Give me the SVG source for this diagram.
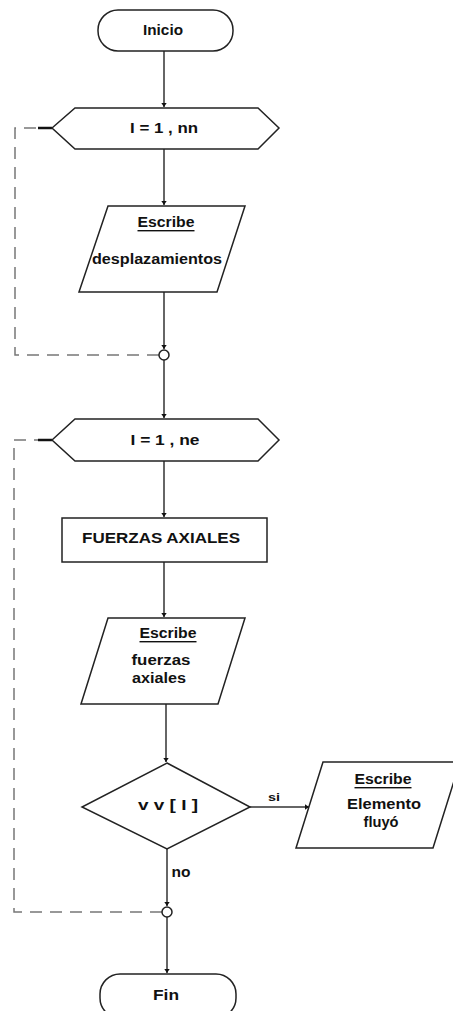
<svg xmlns="http://www.w3.org/2000/svg" width="453" height="1011" viewBox="0 0 453 1011">
<style>
.shape{fill:#fff;stroke:#222;stroke-width:1.5}
.line{fill:none;stroke:#333;stroke-width:1.5}
.dash{fill:none;stroke:#777;stroke-width:1.5;stroke-dasharray:12 8}
text{font-family:"Liberation Sans",Arial,sans-serif;font-weight:bold;font-size:14px;fill:#111;text-anchor:middle;dominant-baseline:central}
.u{text-decoration:underline}
</style>
<defs>
<marker id="ah" viewBox="0 0 6 8" refX="6" refY="4" markerWidth="4" markerHeight="6" orient="auto" markerUnits="userSpaceOnUse">
<path d="M0,0 L6,4 L0,8 Z" fill="#111"/>
</marker>
</defs>
<rect width="453" height="1011" fill="#fff"/>
<g id="connectors">
<line class="line" x1="164" y1="51" x2="164" y2="107" marker-end="url(#ah)"/>
<line class="line" x1="164" y1="149" x2="164" y2="205" marker-end="url(#ah)"/>
<line class="line" x1="164" y1="292" x2="164" y2="349" marker-end="url(#ah)"/>
<line class="line" x1="164" y1="360" x2="164" y2="418" marker-end="url(#ah)"/>
<line class="line" x1="164" y1="461" x2="164" y2="517" marker-end="url(#ah)"/>
<line class="line" x1="164" y1="562" x2="164" y2="617" marker-end="url(#ah)"/>
<line class="line" x1="166" y1="704" x2="166" y2="762" marker-end="url(#ah)"/>
<line class="line" x1="250" y1="807" x2="309" y2="807" marker-end="url(#ah)"/>
<line class="line" x1="167" y1="849" x2="167" y2="906" marker-end="url(#ah)"/>
<line class="line" x1="167" y1="917" x2="167" y2="973" marker-end="url(#ah)"/>
<path class="dash" d="M159,355 H15 V128 H38"/>
<line x1="38" y1="128" x2="52" y2="128" stroke="#111" stroke-width="2.5"/>
<path class="dash" d="M162,912 H14 V440 H38"/>
<line x1="38" y1="440" x2="52" y2="440" stroke="#111" stroke-width="2.5"/>
<circle class="shape" cx="164" cy="355" r="5"/>
<circle class="shape" cx="167" cy="912" r="5"/>
<text x="274" y="797" style="font-size:10px" textLength="12" lengthAdjust="spacingAndGlyphs">si</text>
<text x="181" y="872" textLength="19" lengthAdjust="spacingAndGlyphs">no</text>
</g>
<g id="inicio">
<rect class="shape" x="98" y="10" width="135" height="41" rx="20"/>
<text x="163" y="30" textLength="40" lengthAdjust="spacingAndGlyphs">Inicio</text>
</g>
<g id="loop1">
<polygon class="shape" points="52,128 75,108 258,108 279,128 258,149 75,149"/>
<text x="164" y="128" textLength="68" lengthAdjust="spacingAndGlyphs">I = 1 , nn</text>
</g>
<g id="escribe1">
<polygon class="shape" points="108,206 245,206 217,292 79,292"/>
<text x="166" y="222" class="u" textLength="57" lengthAdjust="spacingAndGlyphs">Escribe</text>
<text x="157" y="259" textLength="130" lengthAdjust="spacingAndGlyphs">desplazamientos</text>
</g>
<g id="loop2">
<polygon class="shape" points="52,440 75,419 258,419 279,440 258,461 75,461"/>
<text x="165" y="440" textLength="69" lengthAdjust="spacingAndGlyphs">I = 1 , ne</text>
</g>
<g id="fuerzas">
<rect class="shape" x="62" y="518" width="205" height="44"/>
<text x="161" y="538" textLength="158" lengthAdjust="spacingAndGlyphs">FUERZAS AXIALES</text>
</g>
<g id="escribe2">
<polygon class="shape" points="108,618 245,618 218,704 81,704"/>
<text x="168" y="633" class="u" textLength="57" lengthAdjust="spacingAndGlyphs">Escribe</text>
<text x="161" y="660" textLength="59" lengthAdjust="spacingAndGlyphs">fuerzas</text>
<text x="159" y="678" textLength="54" lengthAdjust="spacingAndGlyphs">axiales</text>
</g>
<g id="decision">
<polygon class="shape" points="167,763 250,807 167,849 82,807"/>
<text x="168" y="805" textLength="60" lengthAdjust="spacingAndGlyphs">v v [ I ]</text>
</g>
<g id="escribe3">
<polygon class="shape" points="323,762 460,762 433,848 296,848"/>
<text x="383" y="779" class="u" textLength="57" lengthAdjust="spacingAndGlyphs">Escribe</text>
<text x="384" y="804" textLength="74" lengthAdjust="spacingAndGlyphs">Elemento</text>
<text x="381" y="822" textLength="35" lengthAdjust="spacingAndGlyphs">fluyó</text>
</g>
<g id="fin">
<rect class="shape" x="100" y="974" width="136" height="44" rx="20"/>
<text x="166" y="995" textLength="26" lengthAdjust="spacingAndGlyphs">Fin</text>
</g>
</svg>
